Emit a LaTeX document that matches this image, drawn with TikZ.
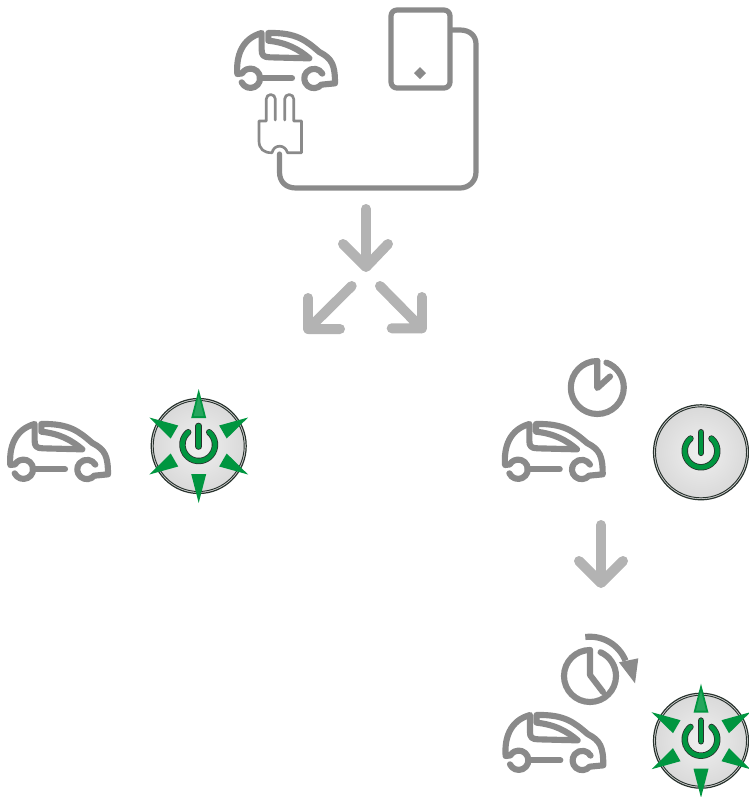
\documentclass[tikz,border=0pt]{standalone}
\usepackage{tikz}
\usetikzlibrary{arrows,shapes,positioning}
\usepackage{xcolor}
\definecolor{icongrey}{RGB}{138,138,138}
\definecolor{arrowgrey}{RGB}{179,179,179}
\definecolor{btngreen}{RGB}{0,150,64}
\definecolor{btndark}{RGB}{40,50,45}
\tikzstyle{iconline} = [draw=icongrey, line width=4.6pt, line cap=round, line join=round]
\tikzstyle{cableline} = [draw=icongrey, line width=3.9pt, line cap=round, line join=round]
\tikzstyle{thinline} = [draw=icongrey, line width=2pt, line cap=round, line join=round]
\tikzstyle{bigarrow} = [draw=arrowgrey, line width=7.5pt, line cap=round, line join=round]
\tikzstyle{flash} = [fill=btngreen, draw=none]
\tikzset{
  pics/carsym/.style={code={
    \draw[iconline,x=0.25pt,y=-0.25pt] (65,247) arc (155:-150:29) -- (52,222)
      .. controls (48,170) and (64,116) .. (125,99) -- (125,150)
      .. controls (125,165) and (130,172) .. (150,172) -- (268,175)
      .. controls (235,147) and (200,128) .. (145,122) -- (145,99)
      .. controls (230,97) and (258,122) .. (298,156)
      .. controls (337,176) and (345,196) .. (345,250) -- (304,254) arc (40:330:29);
    \draw[iconline,x=0.25pt,y=-0.25pt] (119,235) -- (216,235);
  }},
  pics/btnsym/.style={code={
    \shade[inner color=white!94!black, outer color=white!85!black] (0,0) circle (47);
    \draw[btndark, line width=0.9pt] (0,0) circle (47.5);
    \draw[btndark, line width=0.7pt] (0,0) circle (45.5);
    \draw[btndark, line width=4.8pt, line cap=round] (-50:16.3) ++(0,-1.3) arc (-50:230:16.3);
    \draw[btngreen, line width=3.6pt, line cap=round] (-50:16.3) ++(0,-1.3) arc (-50:230:16.3);
    \draw[btndark, line width=5pt, line cap=round] (0,-20) -- (0,0.5);
    \draw[btngreen, line width=3.6pt, line cap=round] (0,-20) -- (0,0.5);
  }},
  pics/flashsym/.style={code={
    \foreach \ang in {0,60,120,180,240,300}
      \fill[flash, rotate=\ang] (0,-57) -- (7.5,-28) -- (-7.5,-28) -- cycle;
    \fill[btngreen!85!white] (0,-50) -- (5,-30) -- (-5,-30) -- cycle;
  }}
}
\begin{document}
\begin{tikzpicture}[x=0.75pt,y=-0.75pt]
\useasboundingbox (0,0) rectangle (749,797);
\coordinate (cartop) at (220,0);
\coordinate (carleft) at (-7,391);
\coordinate (carmid) at (487.7,391);
\coordinate (carlow) at (488.3,682);
\coordinate (btnleft) at (198.7,446);
\coordinate (btnmid) at (701,452.3);
\coordinate (btnlow) at (701,740.7);

% charger
\pic at (cartop) {carsym};
\draw[cableline, rounded corners=4.5pt] (391,10) rectangle (450,88);
\fill[icongrey] (420,67) -- (426,73) -- (420,79) -- (414,73) -- cycle;
\draw[cableline] (452,30) -- (460,30) .. controls (470,30) and (476,36) .. (476,44) -- (476,172)
  .. controls (476,182) and (468,188) .. (460,188) -- (296,188)
  .. controls (286,188) and (279.5,182) .. (279.5,172) -- (279.5,154);
\draw[thinline] (275.3,120) -- (275.3,99) arc (0:-180:4.5) -- (266.3,121) -- (259,121) -- (259,141)
  .. controls (259,149) and (264,153) .. (272,152.7)
  .. controls (274,144) and (285,144) .. (287.5,152.7)
  -- (301.5,152.7) -- (301.5,121) -- (293.7,121) -- (293.7,99) arc (360:180:4.5) -- (284.7,120);

% arrows
\draw[bigarrow] (366,209) -- (366,266);
\draw[bigarrow] (343,244) -- (366,267) -- (388,244);
\draw[bigarrow] (351.7,286) -- (308.3,329) -- (340,329);
\draw[bigarrow] (308.3,298) -- (308.3,329);
\draw[bigarrow] (380,286) -- (421.7,328.3) -- (391.7,328.3);
\draw[bigarrow] (421.7,297) -- (421.7,328.3);
\draw[bigarrow] (601,525) -- (601,582);
\draw[bigarrow] (579,561) -- (601,583) -- (623,561);

% left case
\pic at (carleft) {carsym};
\pic at (btnleft) {btnsym};
\pic at (btnleft) {flashsym};

% timer
\draw[iconline] (597.3,361) -- (597.3,388) -- (610,376.5);
\draw[iconline] (597.3,361) arc (-90:-430:26.5);
\pic at (carmid) {carsym};
\pic at (btnmid) {btnsym};

% timer running
\draw[iconline] (590,650) -- (590,675) -- (603,692);
\draw[iconline] (590,650) arc (-90:-426:26);
\draw[iconline, line cap=butt] (585.3,637) arc (-97:-22:38.3);
\fill[icongrey] (635,683.3) -- (619,662.3) -- (638.3,658.3) -- cycle;
\pic at (carlow) {carsym};
\pic at (btnlow) {btnsym};
\pic at (btnlow) {flashsym};
\end{tikzpicture}
\end{document}
